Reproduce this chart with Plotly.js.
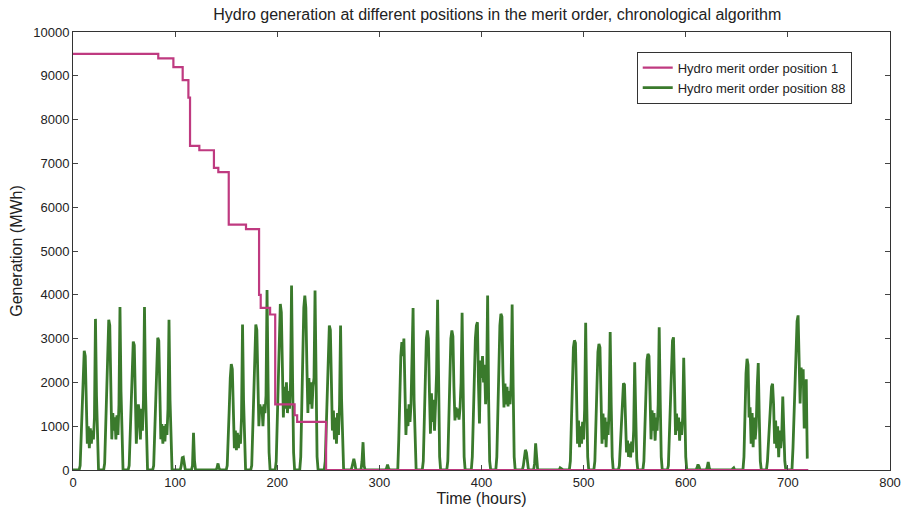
<!DOCTYPE html>
<html>
<head>
<meta charset="utf-8">
<script src="https://cdn.plot.ly/plotly-3.0.1.min.js"></script>
<style>
  html, body { margin: 0; padding: 0; background: #ffffff; }
  #chart { width: 904px; height: 508px; }
</style>
</head>
<body>
<div id="chart"></div>
<script>
// Hydro merit order position 1: step changes (hour at which the level starts, level in MWh)
var pos1Hours  = [0, 83.5, 98.3, 107.4, 113, 114.6, 123.7, 138, 142.3, 152.5, 169.4, 182.2, 183.8, 193, 198, 217, 219.5, 247.8, 720];
var pos1Values = [9500, 9400, 9200, 8900, 8500, 7400, 7300, 6900, 6800, 5600, 5500, 4000, 3700, 3550, 1500, 1250, 1100, 0, 0];

// Hydro merit order position 88: hourly generation (MWh), one row per day (24 h)
var pos88Values = [
  0,0,0,0,0,0,0,100,700,1500,2300,2720,2600,1500,600,1000,500,950,600,900,700,1200,3450,1700,
  400,0,0,0,0,0,0,150,900,1900,2900,3430,3300,2000,700,1300,900,1200,700,1250,800,1500,3720,1800,
  400,0,0,0,0,0,0,100,800,1700,2500,2930,2850,1700,600,1100,1500,1300,700,1400,900,1600,3720,1800,
  400,0,0,0,0,0,0,100,800,1800,2600,3020,2950,1800,700,1050,600,1000,650,1050,800,1400,3430,1600,
  350,0,0,0,0,0,0,0,0,0,100,280,290,120,0,0,0,0,0,0,0,100,850,200,
  0,0,0,0,0,0,0,0,0,0,0,0,0,0,0,0,0,0,0,0,0,50,150,40,
  0,0,0,0,0,0,0,100,600,1400,2100,2420,2300,1400,500,900,450,850,500,800,600,1200,3320,1600,
  400,0,0,0,0,0,0,100,900,2000,2900,3320,3200,2000,1000,1500,1300,1450,1000,1500,1300,1700,4110,2000,
  400,0,0,0,0,0,0,200,1100,2300,3300,3790,3600,2300,1200,1900,1400,2000,1300,1800,1400,2000,4210,2100,
  400,0,0,0,0,0,0,300,1500,2800,3700,3980,3700,2400,1300,2100,1500,2000,1400,1900,2100,4100,1800,300,
  0,0,0,0,0,0,0,200,1000,2200,3000,3300,3200,2000,900,1360,700,1200,600,1300,800,1500,3300,1600,
  400,0,0,0,0,0,0,0,0,50,200,255,150,0,0,0,0,0,0,200,635,100,0,0,
  0,0,0,0,0,0,0,0,0,0,0,0,0,0,0,0,0,0,0,40,125,40,0,0,
  0,0,0,0,0,0,0,700,1700,2600,2920,2600,3000,1900,800,1400,1000,1500,1100,1500,2500,3700,1600,400,
  0,0,0,0,0,0,0,200,1100,2300,3000,3185,3000,1800,830,1750,1100,1600,900,1500,2200,3885,1700,300,
  0,0,0,0,0,0,0,200,1100,2300,3000,3185,3050,1900,1130,1430,1200,1400,1150,1420,2000,3590,1600,300,
  0,0,0,0,0,0,0,300,1300,2300,3000,3300,3375,2000,1060,2500,2100,2600,2000,2400,1500,2000,3985,1600,
  200,0,0,0,0,0,0,300,1400,2500,3300,3566,3500,2200,1430,1975,1500,1900,1450,1800,1500,2000,3780,1900,
  300,0,0,0,0,0,0,0,0,100,350,460,400,100,0,0,0,0,0,0,150,610,300,0,
  0,0,0,0,0,0,0,0,0,0,0,0,0,0,0,0,0,0,0,0,0,50,30,0,
  0,0,0,0,0,0,0,200,1000,2100,2800,2960,2900,1800,600,1130,520,1000,600,1100,700,1400,3360,1600,
  300,0,0,0,0,0,0,200,1000,2000,2700,2880,2800,1700,600,1290,700,1200,520,1100,800,1400,3150,1500,
  300,0,0,0,0,0,0,100,600,1300,1800,1980,1950,1200,400,670,300,600,290,650,400,900,2460,1300,
  250,0,0,0,0,0,0,200,1000,1900,2500,2650,2600,1700,700,1360,900,1300,670,1200,900,1500,3260,1600,
  300,0,0,0,0,0,0,100,800,1800,2600,2950,3030,2000,800,1290,900,1200,670,1100,800,1200,2560,1500,
  300,0,0,0,0,0,0,0,0,0,0,50,125,80,0,0,0,0,0,0,0,60,180,50,
  0,0,0,0,0,0,0,0,0,0,0,0,0,0,0,0,0,0,0,0,0,0,30,50,
  0,0,0,0,0,0,0,0,0,300,1400,2200,2540,2400,1200,1430,600,1300,520,1200,700,1000,1900,2440,
  1200,200,0,0,0,0,0,0,200,700,1200,1600,1900,1970,1500,600,1130,500,1000,290,900,500,800,1680,
  900,200,0,0,0,0,0,0,0,500,1300,2200,3000,3400,3530,2500,1520,2340,2000,2300,950,1500,2070,260
];
var pos88Hours = pos88Values.map(function (v, i) { return i; });

var xTickValues = [0, 100, 200, 300, 400, 500, 600, 700, 800];
var yTickValues = [0, 1000, 2000, 3000, 4000, 5000, 6000, 7000, 8000, 9000, 10000];
var yTickLabels = ['0', '1000', '2000', '3000', '4000', '5000', '6000', '7000', '8000', '9000', '10000'];

var labelPos1 = 'Hydro merit order position 1';
var labelPos88 = 'Hydro merit order position 88';

var traces = [
  {
    x: pos88Hours, y: pos88Values, type: 'scatter', mode: 'lines',
    name: labelPos88,
    line: { color: '#3a7a2c', width: 2.8 }
  },
  {
    x: pos1Hours, y: pos1Values, type: 'scatter', mode: 'lines',
    name: labelPos1,
    line: { color: '#bf3a80', width: 2.2, shape: 'hv' }
  }
];

var fam = 'Liberation Sans, Arial, sans-serif';
var tickFont = { family: fam, size: 13, color: '#222' };

var layout = {
  width: 904, height: 508,
  paper_bgcolor: '#ffffff', plot_bgcolor: '#ffffff',
  margin: { l: 73, r: 14, t: 32, b: 38 },
  font: tickFont,
  showlegend: true,
  title: {
    text: 'Hydro generation at different positions in the merit order, chronological algorithm',
    font: { family: fam, size: 16, color: '#222' },
    x: 0.55, xanchor: 'center', y: 0.972, yanchor: 'middle'
  },
  xaxis: {
    range: [0, 800], tickvals: xTickValues, ticks: 'inside', ticklen: 5,
    showline: true, linecolor: '#333', linewidth: 1, mirror: 'ticks',
    showgrid: false, zeroline: false, tickfont: tickFont,
    title: { text: 'Time (hours)', font: { family: fam, size: 16, color: '#222' }, standoff: 2 }
  },
  yaxis: {
    range: [0, 10000], tickvals: yTickValues, ticktext: yTickLabels, ticks: 'inside', ticklen: 5,
    showline: true, linecolor: '#333', linewidth: 1, mirror: 'ticks',
    showgrid: false, zeroline: false, tickfont: tickFont,
    title: { text: 'Generation (MWh)', font: { family: fam, size: 16, color: '#222' }, standoff: 6 }
  },
  legend: {
    x: 0.69, y: 0.955, xanchor: 'left', yanchor: 'top',
    bgcolor: '#ffffff', bordercolor: '#333', borderwidth: 1,
    traceorder: 'reversed',
    font: { family: fam, size: 13, color: '#222' },
    tracegroupgap: 0, itemwidth: 30
  }
};

Plotly.newPlot('chart', traces, layout, { staticPlot: true, displayModeBar: false });
</script>
</body>
</html>
